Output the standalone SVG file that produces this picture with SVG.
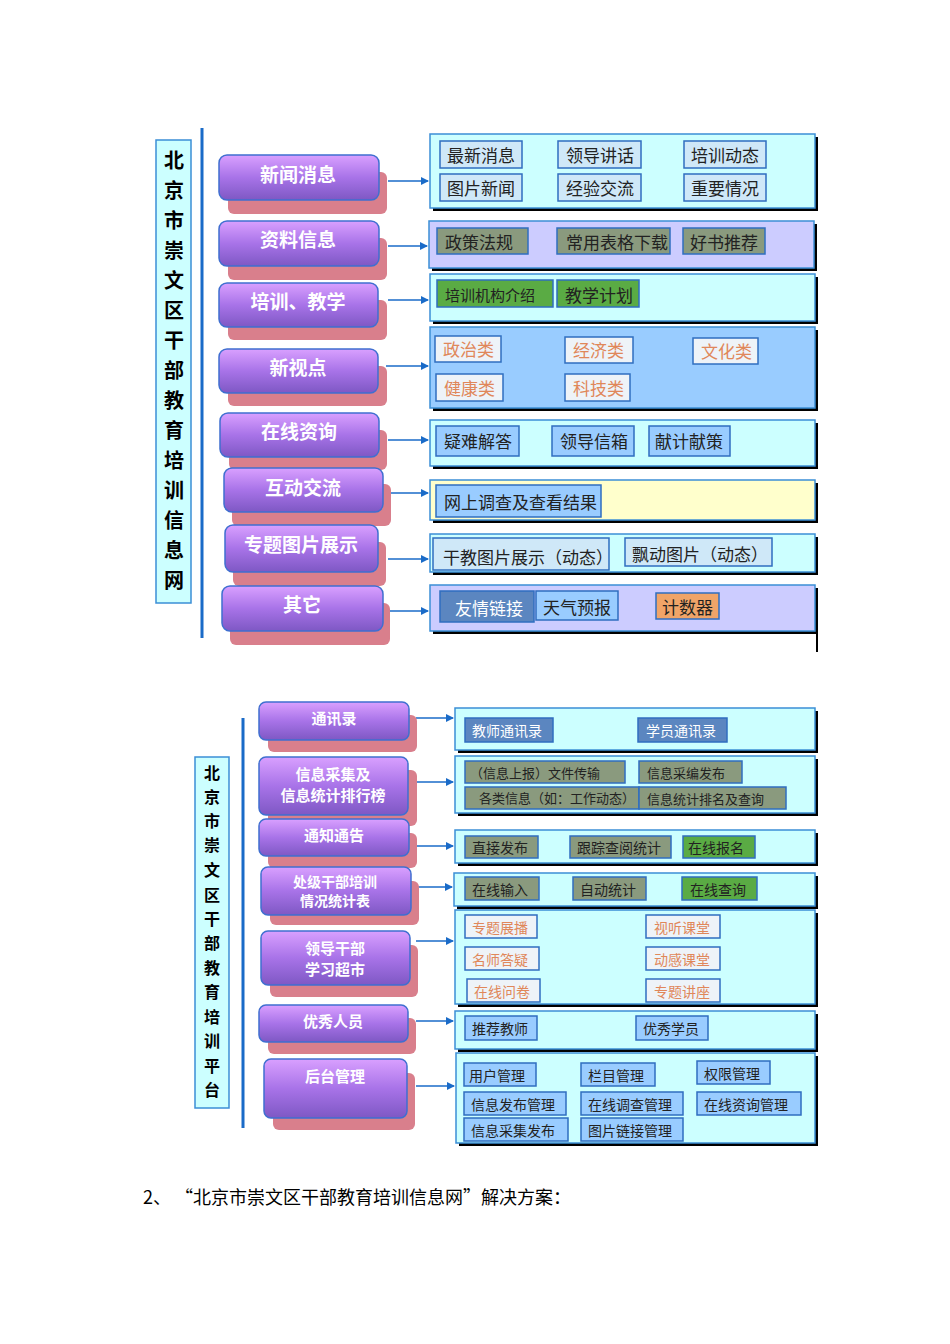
<svg xmlns="http://www.w3.org/2000/svg" width="950" height="1344" viewBox="0 0 950 1344">
<defs>
<linearGradient id="pg" x1="0" y1="0" x2="0" y2="1"><stop offset="0" stop-color="#d9a0ff"/><stop offset="0.5" stop-color="#a873e8"/><stop offset="1" stop-color="#7e58c4"/></linearGradient>
<marker id="ar" markerWidth="8" markerHeight="8" refX="7" refY="4" orient="auto" markerUnits="userSpaceOnUse"><path d="M0,0 L8,4 L0,8 z" fill="#1a6bc8"/></marker>
</defs>
<style>
text{font-family:"Noto Sans CJK SC","Liberation Sans",sans-serif}
.sh{fill:#d97f8c}
.nd{fill:url(#pg);stroke:#3f6fd0;stroke-width:1.5}
.nt{fill:#fff;font-size:19px;font-weight:bold;text-anchor:middle}
.nt2{fill:#fff;font-size:15px;font-weight:bold;text-anchor:middle}
.pb{fill:#000}
.pn{stroke:#3b8fd6;stroke-width:1.5}
.bx{stroke:#2f6ec0;stroke-width:1.5}
.t{font-size:17px;fill:#222}
.ts{font-size:14px;fill:#222}
.to{font-size:17px;fill:#e0875a}
.tso{font-size:14px;fill:#e0875a}
.ttl{fill:#ccffff;stroke:#3b8fd6;stroke-width:1.5}
.tt{font-size:20px;font-weight:bold;fill:#000;text-anchor:middle}
.tt2{font-size:16px;font-weight:bold;fill:#000;text-anchor:middle}
.vl{stroke:#1a6bc8;stroke-width:3}
.cn{stroke:#1a6bc8;stroke-width:1.5;marker-end:url(#ar)}
</style>
<rect width="950" height="1344" fill="#fff"/>

<g id="title1"><rect class="ttl" x="156" y="140" width="35" height="463"/>
<text class="tt"><tspan x="174" y="168">北</tspan><tspan x="174" y="198">京</tspan><tspan x="174" y="228">市</tspan><tspan x="174" y="258">崇</tspan><tspan x="174" y="288">文</tspan><tspan x="174" y="318">区</tspan><tspan x="174" y="348">干</tspan><tspan x="174" y="378">部</tspan><tspan x="174" y="408">教</tspan><tspan x="174" y="438">育</tspan><tspan x="174" y="468">培</tspan><tspan x="174" y="498">训</tspan><tspan x="174" y="528">信</tspan><tspan x="174" y="558">息</tspan><tspan x="174" y="588">网</tspan></text></g>
<line class="vl" x1="202" y1="128" x2="202" y2="638"/>

<g id="connectors">
<line class="cn" x1="388" y1="181" x2="428" y2="181"/>
<line class="cn" x1="388" y1="246" x2="427" y2="246"/>
<line class="cn" x1="388" y1="300" x2="428" y2="300"/>
<line class="cn" x1="386" y1="366" x2="428" y2="366"/>
<line class="cn" x1="388" y1="440" x2="428" y2="440"/>
<line class="cn" x1="390" y1="493" x2="428" y2="493"/>
<line class="cn" x1="388" y1="559" x2="428" y2="559"/>
<line class="cn" x1="390" y1="611" x2="428" y2="611"/>
<line class="cn" x1="416" y1="718" x2="453" y2="718"/>
<line class="cn" x1="416" y1="782" x2="453" y2="782"/>
<line class="cn" x1="416" y1="846" x2="453" y2="846"/>
<line class="cn" x1="418" y1="887" x2="452" y2="887"/>
<line class="cn" x1="416" y1="941" x2="453" y2="941"/>
<line class="cn" x1="416" y1="1021" x2="453" y2="1021"/>
<line class="cn" x1="416" y1="1086" x2="454" y2="1086"/>
<line x1="817" y1="628" x2="817" y2="652" stroke="#000" stroke-width="2"/>
</g>

<g id="n1"><rect class="sh" x="228" y="172" width="159" height="42" rx="6"/><rect class="nd" x="219" y="155" width="160" height="45" rx="8"/><text class="nt" x="298" y="182">新闻消息</text></g>
<g id="n2"><rect class="sh" x="228" y="238" width="159" height="42" rx="6"/><rect class="nd" x="219" y="221" width="160" height="45" rx="8"/><text class="nt" x="298" y="247">资料信息</text></g>
<g id="n3"><rect class="sh" x="228" y="300" width="159" height="40" rx="6"/><rect class="nd" x="219" y="283" width="159" height="44" rx="8"/><text class="nt" x="298" y="309">培训、教学</text></g>
<g id="n4"><rect class="sh" x="228" y="366" width="159" height="40" rx="6"/><rect class="nd" x="219" y="349" width="159" height="44" rx="8"/><text class="nt" x="298" y="375">新视点</text></g>
<g id="n5"><rect class="sh" x="229" y="430" width="158" height="40" rx="6"/><rect class="nd" x="220" y="413" width="159" height="44" rx="8"/><text class="nt" x="299" y="439">在线资询</text></g>
<g id="n6"><rect class="sh" x="232" y="484" width="159" height="42" rx="6"/><rect class="nd" x="224" y="468" width="159" height="44" rx="8"/><text class="nt" x="303" y="495">互动交流</text></g>
<g id="n7"><rect class="sh" x="233" y="542" width="153" height="44" rx="6"/><rect class="nd" x="225" y="525" width="153" height="47" rx="8"/><text class="nt" x="301" y="552">专题图片展示</text></g>
<g id="n8"><rect class="sh" x="230" y="603" width="160" height="42" rx="6"/><rect class="nd" x="222" y="586" width="161" height="45" rx="8"/><text class="nt" x="302" y="612">其它</text></g>

<g id="p1"><rect class="pb" x="433" y="137" width="385" height="74"/><rect class="pn" x="430" y="134" width="385" height="74" fill="#ccffff"/>
<g fill="#cfe8f8" class="bx"><rect x="440" y="141" width="82" height="27"/><rect x="558" y="141" width="83" height="27"/><rect x="684" y="141" width="82" height="27"/><rect x="440" y="174" width="82" height="27"/><rect x="558" y="174" width="83" height="27"/><rect x="684" y="174" width="82" height="27"/></g>
<text class="t"><tspan x="447" y="162">最新消息</tspan><tspan x="566" y="162">领导讲话</tspan><tspan x="691" y="162">培训动态</tspan><tspan x="447" y="195">图片新闻</tspan><tspan x="566" y="195">经验交流</tspan><tspan x="691" y="195">重要情况</tspan></text></g>
<g id="p2"><rect class="pb" x="432" y="224" width="385" height="47"/><rect class="pn" x="429" y="221" width="385" height="47" fill="#ccccff"/>
<g fill="#8a9a7e" class="bx"><rect x="437" y="228" width="91" height="26"/><rect x="557" y="228" width="113" height="26"/><rect x="683" y="228" width="82" height="26"/></g>
<text class="t"><tspan x="445" y="249">政策法规</tspan><tspan x="566" y="249">常用表格下载</tspan><tspan x="690" y="249">好书推荐</tspan></text></g>
<g id="p3"><rect class="pb" x="433" y="277" width="385" height="47"/><rect class="pn" x="430" y="274" width="385" height="47" fill="#ccffff"/>
<g fill="#5aab44" class="bx"><rect x="437" y="280" width="116" height="27"/><rect x="557" y="280" width="82" height="27"/></g>
<text class="t"><tspan x="445" y="301" style="font-size:15px">培训机构介绍</tspan><tspan x="565" y="302">教学计划</tspan></text></g>
<g id="p4"><rect class="pb" x="433" y="330" width="385" height="81"/><rect class="pn" x="430" y="327" width="385" height="81" fill="#99ccff"/>
<g fill="#eef3f8" class="bx"><rect x="435" y="336" width="66" height="26"/><rect x="565" y="337" width="68" height="26"/><rect x="693" y="338" width="65" height="26"/><rect x="436" y="374" width="67" height="27"/><rect x="565" y="374" width="65" height="27"/></g>
<text class="to"><tspan x="443" y="356">政治类</tspan><tspan x="573" y="357">经济类</tspan><tspan x="701" y="358">文化类</tspan><tspan x="444" y="395">健康类</tspan><tspan x="573" y="395">科技类</tspan></text></g>
<g id="p5"><rect class="pb" x="433" y="423" width="385" height="46"/><rect class="pn" x="430" y="420" width="385" height="46" fill="#ccffff"/>
<g fill="#99ccff" class="bx"><rect x="436" y="426" width="83" height="30"/><rect x="552" y="426" width="82" height="30"/><rect x="649" y="426" width="81" height="30"/></g>
<text class="t"><tspan x="444" y="448">疑难解答</tspan><tspan x="560" y="448">领导信箱</tspan><tspan x="655" y="448">献计献策</tspan></text></g>
<g id="p6"><rect class="pb" x="433" y="483" width="385" height="40"/><rect class="pn" x="430" y="480" width="385" height="40" fill="#ffffcc"/>
<rect class="bx" fill="#99ccff" x="436" y="485" width="165" height="32"/><text class="t" x="444" y="509">网上调查及查看结果</text></g>
<g id="p7"><rect class="pb" x="433" y="537" width="385" height="38"/><rect class="pn" x="430" y="534" width="385" height="38" fill="#ccffff"/>
<g fill="#cfe8f8" class="bx"><rect x="433" y="538" width="176" height="32"/><rect x="625" y="538" width="147" height="28"/></g>
<text class="t"><tspan x="443" y="564">干教图片展示（动态）</tspan><tspan x="632" y="561">飘动图片（动态）</tspan></text></g>
<g id="p8"><rect class="pb" x="433" y="588" width="385" height="46"/><rect class="pn" x="430" y="585" width="385" height="46" fill="#ccccff"/>
<rect class="bx" fill="#5b86c0" x="440" y="591" width="94" height="31"/><rect class="bx" fill="#99ccff" x="536" y="591" width="82" height="29"/><rect class="bx" fill="#f0a468" x="656" y="593" width="63" height="26"/>
<text class="t"><tspan x="455" y="615" fill="#fff">友情链接</tspan><tspan x="543" y="614">天气预报</tspan><tspan x="662" y="614">计数器</tspan></text></g>

<g id="title2"><rect class="ttl" x="195" y="757" width="34" height="351"/>
<text class="tt2"><tspan x="212" y="779">北</tspan><tspan x="212" y="803">京</tspan><tspan x="212" y="827">市</tspan><tspan x="212" y="851">崇</tspan><tspan x="212" y="876">文</tspan><tspan x="212" y="901">区</tspan><tspan x="212" y="925">干</tspan><tspan x="212" y="949">部</tspan><tspan x="212" y="974">教</tspan><tspan x="212" y="998">育</tspan><tspan x="212" y="1023">培</tspan><tspan x="212" y="1047">训</tspan><tspan x="212" y="1072">平</tspan><tspan x="212" y="1096">台</tspan></text></g>
<line class="vl" x1="243" y1="718" x2="243" y2="1128"/>

<g id="m1"><rect class="sh" x="268" y="715" width="149" height="37" rx="6"/><rect class="nd" x="259" y="702" width="150" height="38" rx="7"/><text class="nt2" x="334" y="724">通讯录</text></g>
<g id="m2"><rect class="sh" x="268" y="770" width="149" height="56" rx="6"/><rect class="nd" x="259" y="757" width="149" height="58" rx="7"/><text class="nt2"><tspan x="333" y="780">信息采集及</tspan><tspan x="333" y="801">信息统计排行榜</tspan></text></g>
<g id="m3"><rect class="sh" x="268" y="833" width="149" height="35" rx="6"/><rect class="nd" x="259" y="819" width="150" height="37" rx="7"/><text class="nt2" x="334" y="841">通知通告</text></g>
<g id="m4"><rect class="sh" x="270" y="881" width="149" height="44" rx="6"/><rect class="nd" x="261" y="867" width="150" height="48" rx="7"/><text class="nt2" style="font-size:14px"><tspan x="335" y="887">处级干部培训</tspan><tspan x="335" y="906">情况统计表</tspan></text></g>
<g id="m5"><rect class="sh" x="270" y="945" width="148" height="52" rx="6"/><rect class="nd" x="261" y="931" width="149" height="54" rx="7"/><text class="nt2"><tspan x="335" y="954">领导干部</tspan><tspan x="335" y="975">学习超市</tspan></text></g>
<g id="m6"><rect class="sh" x="268" y="1018" width="148" height="36" rx="6"/><rect class="nd" x="259" y="1005" width="149" height="37" rx="7"/><text class="nt2" x="333" y="1027">优秀人员</text></g>
<g id="m7"><rect class="sh" x="273" y="1073" width="142" height="57" rx="6"/><rect class="nd" x="264" y="1059" width="143" height="59" rx="7"/><text class="nt2" x="335" y="1082">后台管理</text></g>

<g id="q1"><rect class="pb" x="458" y="711" width="360" height="42"/><rect class="pn" x="455" y="708" width="360" height="42" fill="#ccffff"/>
<g fill="#5b86c0" class="bx"><rect x="465" y="718" width="88" height="24"/><rect x="638" y="718" width="89" height="24"/></g>
<text class="ts"><tspan x="472" y="736" fill="#fff">教师通讯录</tspan><tspan x="646" y="736" fill="#fff">学员通讯录</tspan></text></g>
<g id="q2"><rect class="pb" x="458" y="759" width="360" height="57"/><rect class="pn" x="455" y="756" width="360" height="57" fill="#ccffff"/>
<g fill="#8a9a7e" class="bx"><rect x="465" y="761" width="160" height="22"/><rect x="639" y="761" width="103" height="22"/><rect x="465" y="787" width="174" height="22"/><rect x="639" y="787" width="147" height="22"/></g>
<text class="ts" style="font-size:13px"><tspan x="470" y="778">（信息上报）文件传输</tspan><tspan x="647" y="778">信息采编发布</tspan><tspan x="479" y="803">各类信息（如：工作动态）</tspan><tspan x="647" y="804">信息统计排名及查询</tspan></text></g>
<g id="q3"><rect class="pb" x="458" y="833" width="360" height="33"/><rect class="pn" x="455" y="830" width="360" height="33" fill="#ccffff"/>
<g class="bx"><rect fill="#8a9a7e" x="465" y="836" width="73" height="22"/><rect fill="#8a9a7e" x="570" y="836" width="101" height="22"/><rect fill="#5aab44" x="683" y="836" width="72" height="22"/></g>
<text class="ts"><tspan x="472" y="853">直接发布</tspan><tspan x="577" y="853">跟踪查阅统计</tspan><tspan x="688" y="853">在线报名</tspan></text></g>
<g id="q4"><rect class="pb" x="457" y="876" width="361" height="33"/><rect class="pn" x="454" y="873" width="361" height="33" fill="#ccffff"/>
<g class="bx"><rect fill="#8a9a7e" x="465" y="877" width="74" height="23"/><rect fill="#8a9a7e" x="573" y="877" width="73" height="23"/><rect fill="#5aab44" x="682" y="877" width="75" height="23"/></g>
<text class="ts"><tspan x="472" y="895">在线输入</tspan><tspan x="580" y="895">自动统计</tspan><tspan x="690" y="895">在线查询</tspan></text></g>
<g id="q5"><rect class="pb" x="458" y="913" width="360" height="94"/><rect class="pn" x="455" y="910" width="360" height="94" fill="#ccffff"/>
<g fill="#eef3f8" class="bx"><rect x="465" y="915" width="72" height="23"/><rect x="646" y="915" width="74" height="23"/><rect x="465" y="947" width="74" height="23"/><rect x="646" y="947" width="74" height="23"/><rect x="467" y="979" width="73" height="23"/><rect x="646" y="979" width="74" height="23"/></g>
<text class="tso"><tspan x="472" y="933">专题展播</tspan><tspan x="654" y="933">视听课堂</tspan><tspan x="472" y="965">名师答疑</tspan><tspan x="654" y="965">动感课堂</tspan><tspan x="474" y="997">在线问卷</tspan><tspan x="654" y="997">专题讲座</tspan></text></g>
<g id="q6"><rect class="pb" x="458" y="1014" width="360" height="38"/><rect class="pn" x="455" y="1011" width="360" height="38" fill="#ccffff"/>
<g fill="#99ccff" class="bx"><rect x="465" y="1016" width="72" height="24"/><rect x="636" y="1016" width="72" height="24"/></g>
<text class="ts"><tspan x="472" y="1034">推荐教师</tspan><tspan x="643" y="1034">优秀学员</tspan></text></g>
<g id="q7"><rect class="pb" x="459" y="1056" width="359" height="90"/><rect class="pn" x="456" y="1053" width="359" height="90" fill="#ccffff"/>
<g fill="#99ccff" class="bx"><rect x="464" y="1063" width="72" height="23"/><rect x="581" y="1063" width="74" height="23"/><rect x="697" y="1061" width="73" height="23"/><rect x="464" y="1092" width="102" height="23"/><rect x="581" y="1092" width="102" height="23"/><rect x="697" y="1092" width="104" height="23"/><rect x="464" y="1118" width="104" height="23"/><rect x="581" y="1118" width="102" height="23"/></g>
<text class="ts"><tspan x="469" y="1081">用户管理</tspan><tspan x="588" y="1081">栏目管理</tspan><tspan x="704" y="1079">权限管理</tspan><tspan x="471" y="1110">信息发布管理</tspan><tspan x="588" y="1110">在线调查管理</tspan><tspan x="704" y="1110">在线资询管理</tspan><tspan x="471" y="1136">信息采集发布</tspan><tspan x="588" y="1136">图片链接管理</tspan></text></g>

<text x="143" y="1204" font-size="18" fill="#000">2、 “北京市崇文区干部教育培训信息网”解决方案：</text>
</svg>
